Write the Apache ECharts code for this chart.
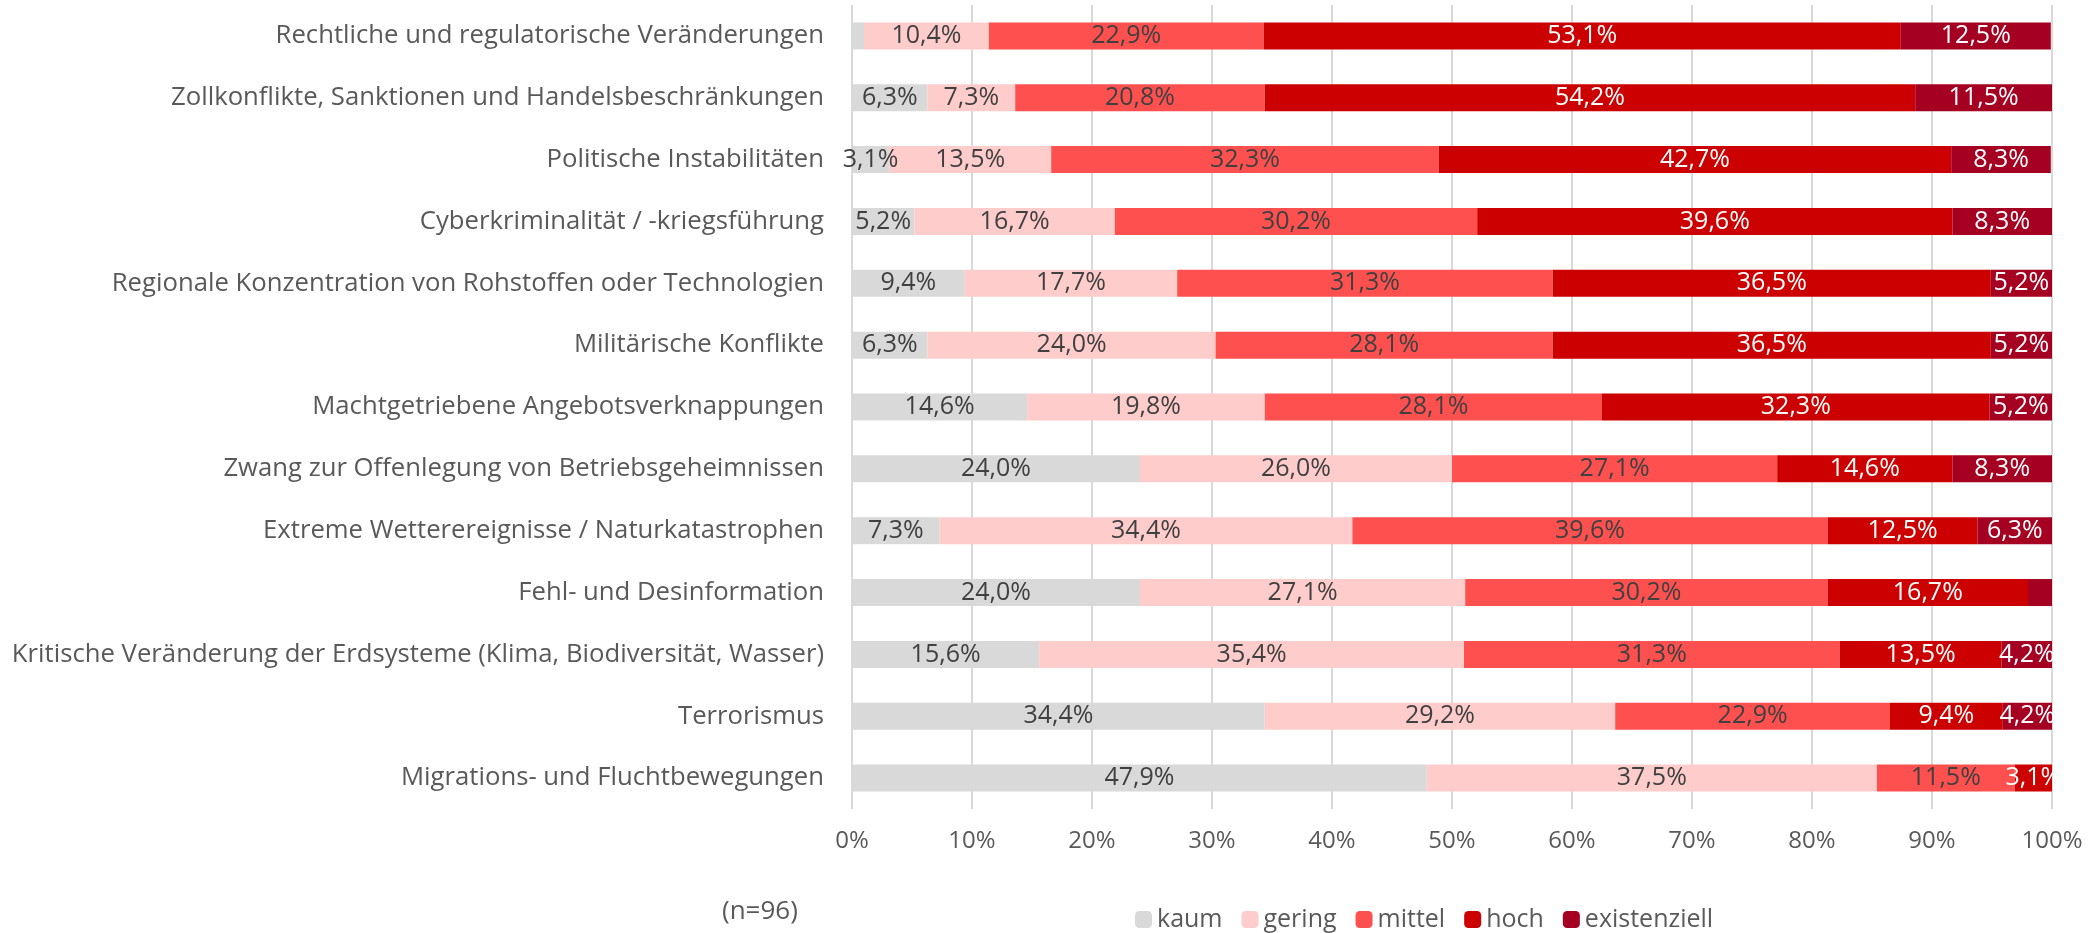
<!DOCTYPE html>
<html>
<head>
<meta charset="utf-8">
<script src="https://cdn.jsdelivr.net/npm/echarts@6/dist/echarts.min.js"></script>
<style>
  html, body { margin: 0; padding: 0; background: #fff; }
  #chart { width: 2099px; height: 933px; }
</style>
</head>
<body>
<div id="chart"></div>
<script>
var categories = [
  'Rechtliche und regulatorische Veränderungen',
  'Zollkonflikte, Sanktionen und Handelsbeschränkungen',
  'Politische Instabilitäten',
  'Cyberkriminalität / -kriegsführung',
  'Regionale Konzentration von Rohstoffen oder Technologien',
  'Militärische Konflikte',
  'Machtgetriebene Angebotsverknappungen',
  'Zwang zur Offenlegung von Betriebsgeheimnissen',
  'Extreme Wetterereignisse / Naturkatastrophen',
  'Fehl- und Desinformation',
  'Kritische Veränderung der Erdsysteme (Klima, Biodiversität, Wasser)',
  'Terrorismus',
  'Migrations- und Fluchtbewegungen'
];
var kaum        = [1.0, 6.3, 3.1, 5.2, 9.4, 6.3, 14.6, 24.0, 7.3, 24.0, 15.6, 34.4, 47.9];
var gering      = [10.4, 7.3, 13.5, 16.7, 17.7, 24.0, 19.8, 26.0, 34.4, 27.1, 35.4, 29.2, 37.5];
var mittel      = [22.9, 20.8, 32.3, 30.2, 31.3, 28.1, 28.1, 27.1, 39.6, 30.2, 31.3, 22.9, 11.5];
var hoch        = [53.1, 54.2, 42.7, 39.6, 36.5, 36.5, 32.3, 14.6, 12.5, 16.7, 13.5, 9.4, 3.1];
var existenziell = [12.5, 11.5, 8.3, 8.3, 5.2, 5.2, 5.2, 8.3, 6.3, 2.1, 4.2, 4.2, 0];
var xTicks = [0, 10, 20, 30, 40, 50, 60, 70, 80, 90, 100];

var fontFam = 'Open Sans';

function makeSeries(name, data, color, labelColor) {
  return {
    name: name,
    type: 'bar',
    stack: 'total',
    data: data,
    barWidth: 27,
    itemStyle: { color: color },
    label: {
      show: true,
      position: 'inside',
      color: labelColor,
      fontFamily: fontFam,
      fontSize: 25,
      formatter: function (p) {
        // kleine Werte wie im Original ohne Beschriftung
        if (p.value < 3) return '';
        return p.value.toFixed(1).replace('.', ',') + '%';
      }
    }
  };
}

var chart = echarts.init(document.getElementById('chart'));
chart.setOption({
  animation: false,
  grid: { left: 852, right: 47, top: 5, bottom: 124 },
  xAxis: {
    type: 'value',
    min: xTicks[0],
    max: xTicks[xTicks.length - 1],
    interval: 10,
    axisLine: { show: false },
    axisTick: { show: false },
    splitLine: { show: true, lineStyle: { color: '#d9d9d9', width: 2 } },
    axisLabel: {
      color: '#595959', fontFamily: fontFam, fontSize: 24, margin: 20,
      formatter: function (v) { return v + '%'; }
    }
  },
  yAxis: {
    type: 'category',
    data: categories,
    inverse: true,
    axisLine: { show: false },
    axisTick: { show: false },
    axisLabel: { color: '#595959', fontFamily: fontFam, fontSize: 25.7, margin: 28 }
  },
  legend: {
    left: 1130,
    top: 902,
    itemWidth: 17,
    itemHeight: 17,
    itemGap: 19,
    textStyle: { color: '#595959', fontFamily: fontFam, fontSize: 25 },
    data: ['kaum', 'gering', 'mittel', 'hoch', 'existenziell']
  },
  graphic: [{
    type: 'text', left: 722, top: 899,
    style: { text: '(n=96)', fill: '#595959', font: '26px "Open Sans"' }
  }],
  series: [
    makeSeries('kaum', kaum, '#d9d9d9', '#404040'),
    makeSeries('gering', gering, '#ffcccc', '#404040'),
    makeSeries('mittel', mittel, '#ff5050', '#404040'),
    makeSeries('hoch', hoch, '#cc0000', '#ffffff'),
    makeSeries('existenziell', existenziell, '#a50021', '#ffffff')
  ]
});
</script>
</body>
</html>
